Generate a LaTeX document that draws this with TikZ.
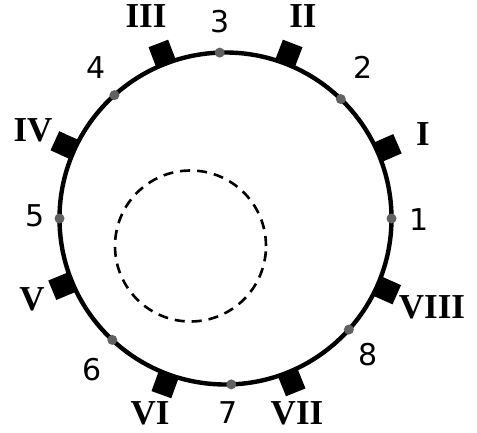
\documentclass[tikz,border=0pt]{standalone}
\usepackage{fontspec}
\usetikzlibrary{calc}
\newfontfamily\digitfont{DejaVu Sans}
\newfontfamily\romanfont{Liberation Serif}
\begin{document}
\begin{tikzpicture}[x=1pt,y=1pt,
  ring/.style={draw=black,line width=4.4pt},
  inner/.style={draw=black,line width=2.6pt,dash pattern=on 10pt off 7pt},
  magnet/.style={fill=black,draw=none,minimum size=21pt,inner sep=0pt},
  pt/.style={circle,fill=black!62,draw=none,minimum size=10pt,inner sep=0pt},
  num/.style={font=\digitfont\fontsize{30}{30}\selectfont,inner sep=0pt,text height=21.9pt,text depth=0pt},
  rom/.style={font=\romanfont\bfseries\fontsize{35}{35}\selectfont,inner sep=0pt,text height=23.2pt,text depth=0pt}]
\useasboundingbox (0,0) rectangle (477,432);
\coordinate (c) at (225.5,213.5);
\coordinate (d) at (190.5,186);
\draw[inner] (d) circle (75.5);
\foreach \a/\n in {23.5/m1,69/m2,111/m3,155.5/m4,202.5/m5,250/m6,292/m7,336/m8}
  \node[magnet,rotate=\a] (\n) at ($(c)+(\a:177)$) {};
\draw[ring] (c) circle (166);
\foreach \a/\n in {0/p1,46/p2,92/p3,132/p4,180/p5,227/p6,272/p7,318/p8}
  \node[pt] (\n) at ($(c)+(\a:166)$) {};
\node[num] (l1) at (419,212) {1};
\node[num] (l2) at (363,364) {2};
\node[num] (l3) at (220,410) {3};
\node[num] (l4) at (96,364) {4};
\node[num] (l5) at (35,216) {5};
\node[num] (l6) at (92,62) {6};
\node[num] (l7) at (228,19) {7};
\node[num] (l8) at (368,77) {8};
\node[rom] (r1) at (423,298) {I};
\node[rom] (r2) at (303,416) {II};
\node[rom] (r3) at (146,416) {III};
\node[rom] (r4) at (33,302) {IV};
\node[rom] (r5) at (32,133) {V};
\node[rom] (r6) at (150,19) {VI};
\node[rom] (r7) at (297,19) {VII};
\node[rom] (r8) at (432,125) {VIII};
\end{tikzpicture}
\end{document}
